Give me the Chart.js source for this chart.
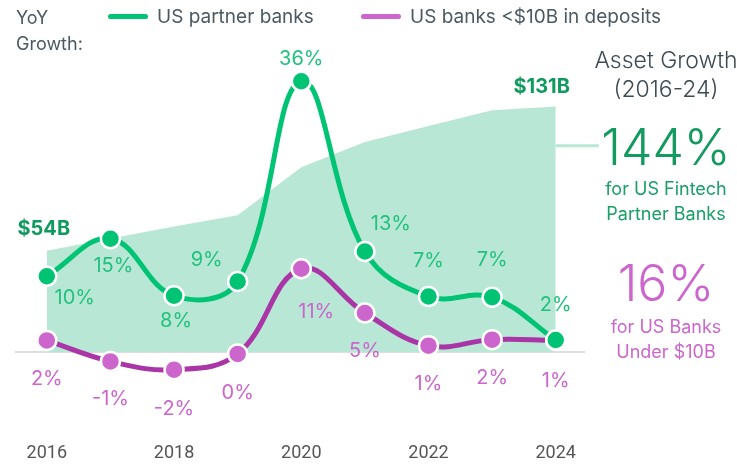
<!DOCTYPE html>
<html>
<head>
<meta charset="utf-8">
<script src="https://cdn.jsdelivr.net/npm/chart.js@4.4.1/dist/chart.umd.min.js"></script>
<style>
  html, body { margin:0; padding:0; background:#fff; }
  #wrap { position:relative; width:737px; height:465px; font-family:Inter, 'Noto Sans', sans-serif; }
  #chart { position:absolute; left:0; top:0; }
  .txt { position:absolute; white-space:nowrap; line-height:1; }
  .legend-title { left:16px; top:5px; font-size:18px; color:#4b5961; line-height:26px; }
  .swatch { position:absolute; height:5px; border-radius:3px; }
  .leg { font-size:19px; color:#4b5961; top:7px; }
  .side { text-align:center; width:150px; left:591px; }
</style>
</head>
<body>
<div id="wrap">
  <canvas id="chart" width="737" height="465"></canvas>

  <div class="txt legend-title">YoY<br>Growth:</div>
  <div class="swatch" style="left:108px; top:14px; width:40px; background:#00c373;"></div>
  <div class="txt leg" style="left:157px;">US partner banks</div>
  <div class="swatch" style="left:361px; top:14px; width:40px; background:#cc66cc;"></div>
  <div class="txt leg" style="left:410px;">US banks &lt;$10B in deposits</div>

  <div class="txt side" style="top:49px; font-size:23px; font-weight:300; color:#3d4a52;">Asset Growth</div>
  <div class="txt side" style="top:78px; font-size:23px; font-weight:300; color:#3d4a52;">(2016-24)</div>
  <div class="txt side" style="top:122px; font-size:50px; font-weight:300; color:#129a5f;">144%</div>
  <div class="txt side" style="top:180px; font-size:18px; color:#18a066;">for US Fintech</div>
  <div class="txt side" style="top:205px; font-size:18px; color:#18a066;">Partner Banks</div>
  <div class="txt side" style="top:258px; font-size:50px; font-weight:300; color:#cc66cc;">16%</div>
  <div class="txt side" style="top:318px; font-size:18px; color:#cc66cc;">for US Banks</div>
  <div class="txt side" style="top:343px; font-size:18px; color:#cc66cc;">Under $10B</div>
</div>

<script>
/* ── data ─────────────────────────────────── */
const years = [2016, 2017, 2018, 2019, 2020, 2021, 2022, 2023, 2024];
const tickYears = [2016, 2018, 2020, 2022, 2024];

// YoY growth, % (US fintech partner banks)
const partnerGrowth = [10.1, 15.1, 7.5, 9.4, 36.1, 13.4, 7.4, 7.3, 1.6];
const partnerLabels = ['10%', '15%', '8%', '9%', '36%', '13%', '7%', '7%', '2%'];

// YoY growth, % (US banks < $10B deposits)
const smallBankGrowth = [1.55, -1.25, -2.35, -0.25, 11.1, 5.2, 0.85, 1.65, 1.55];
const smallBankLabels = ['2%', '-1%', '-2%', '0%', '11%', '5%', '1%', '2%', '1%'];

// total assets of partner banks, $B
const partnerAssets = [54, 60.5, 67, 73, 98.5, 112, 120.5, 129, 131];
const assetLabels = ['$54B', '', '', '', '', '', '', '', '$131B'];

/* ── label offsets (px from point) ────────── */
const partnerOffsets = [[28,22],[3,27],[2,25],[-31,-22],[0,-22],[26,-28],[0,-36],[0,-37],[0,-35]];
const smallOffsets   = [[0,39],[0,38],[0,39],[0,39],[15,43],[0,38],[0,38],[0,38],[0,41]];
const assetOffsets   = [[-3,-22],[0,0],[0,0],[0,0],[0,0],[0,0],[0,0],[0,0],[-14,-19]];

const GREEN = '#00c373', PURPLE_LINE = '#a935a7', PURPLE = '#cc66cc', AREA = '#b9e7d5';

const pts = arr => arr.map((v, i) => ({ x: years[i], y: v }));

const pointLabels = {
  id: 'pointLabels',
  beforeDatasetsDraw(chart) {
    const { ctx, chartArea, scales } = chart;
    const y0 = scales.y.getPixelForValue(0);
    ctx.save();
    ctx.strokeStyle = '#dedede';
    ctx.lineWidth = 2;
    ctx.beginPath();
    ctx.moveTo(chartArea.left, y0);
    ctx.lineTo(chartArea.right, y0);
    ctx.stroke();
    ctx.restore();
  },
  afterDatasetsDraw(chart) {
    const { ctx, scales } = chart;
    ctx.save();
    // connector from the area to the side note
    const lastX = scales.x.getPixelForValue(years[years.length - 1]);
    const cy = scales.y2.getPixelForValue(110);
    ctx.strokeStyle = AREA;
    ctx.lineWidth = 3;
    ctx.beginPath();
    ctx.moveTo(lastX, cy);
    ctx.lineTo(lastX + 43, cy);
    ctx.stroke();

    ctx.textAlign = 'center';
    ctx.textBaseline = 'middle';
    chart.data.datasets.forEach((ds, i) => {
      if (!ds.labels) return;
      const meta = chart.getDatasetMeta(i);
      ctx.fillStyle = ds.labelColor;
      ctx.font = ds.labelFont;
      meta.data.forEach((p, j) => {
        const t = ds.labels[j];
        if (!t) return;
        const [dx, dy] = ds.offsets[j];
        ctx.fillText(t, p.x + dx, p.y + dy);
      });
    });
    ctx.restore();
  }
};

new Chart(document.getElementById('chart'), {
  type: 'line',
  data: {
    datasets: [
      {
        label: 'US partner banks', data: pts(partnerGrowth), yAxisID: 'y', order: 0,
        borderColor: GREEN, borderWidth: 5, tension: 0.4,
        pointRadius: 9.5, pointBackgroundColor: GREEN, pointBorderColor: '#fff', pointBorderWidth: 2.5,
        labels: partnerLabels, offsets: partnerOffsets, labelColor: '#22c27e', labelFont: '400 20px Inter',
      },
      {
        label: 'US banks <$10B in deposits', data: pts(smallBankGrowth), yAxisID: 'y', order: 1,
        borderColor: PURPLE_LINE, borderWidth: 5, tension: 0.4,
        pointRadius: 9.5, pointBackgroundColor: PURPLE, pointBorderColor: '#fff', pointBorderWidth: 2.5,
        labels: smallBankLabels, offsets: smallOffsets, labelColor: PURPLE, labelFont: '400 20px Inter',
      },
      {
        label: 'Assets', data: pts(partnerAssets), yAxisID: 'y2', order: 2,
        borderWidth: 0, pointRadius: 0, tension: 0, fill: 'origin', backgroundColor: AREA,
        labels: assetLabels, offsets: assetOffsets, labelColor: '#0f9a5e', labelFont: '700 20px Inter',
      },
    ],
  },
  options: {
    responsive: false, animation: false,
    layout: { padding: { left: 15, right: 152, top: 52, bottom: 0 } },
    plugins: { legend: { display: false }, tooltip: { enabled: false } },
    scales: {
      x: {
        type: 'linear', min: 2015.5, max: 2024.46,
        afterBuildTicks: s => { s.ticks = tickYears.map(v => ({ value: v })); },
        afterFit: s => { s.height = 38; },
        grid: { display: false, drawTicks: false }, border: { display: false },
        ticks: {
          padding: 16, color: '#555', maxRotation: 0, autoSkip: false,
          font: { family: "'Liberation Sans Narrow', Roboto, sans-serif", size: 18 },
          callback: v => String(v),
        },
      },
      y: { min: -10, max: 40, display: false },
      y2: { min: -40, max: 160, display: false },
    },
  },
  plugins: [pointLabels],
});
</script>
</body>
</html>
